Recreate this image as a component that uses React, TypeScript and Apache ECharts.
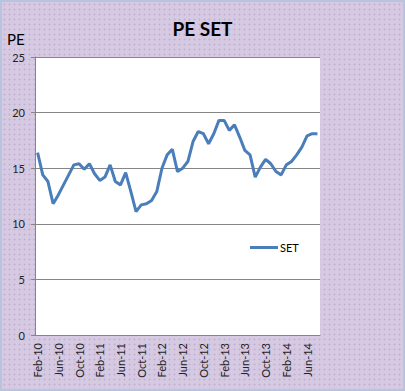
import React, { useEffect, useRef } from "react";
import * as echarts from "echarts";

const categories: string[] = [
  "Feb-10", "Mar-10", "Apr-10", "May-10", "Jun-10", "Jul-10", "Aug-10", "Sep-10", "Oct-10", "Nov-10", "Dec-10",
  "Jan-11", "Feb-11", "Mar-11", "Apr-11", "May-11", "Jun-11", "Jul-11", "Aug-11", "Sep-11", "Oct-11", "Nov-11", "Dec-11",
  "Jan-12", "Feb-12", "Mar-12", "Apr-12", "May-12", "Jun-12", "Jul-12", "Aug-12", "Sep-12", "Oct-12", "Nov-12", "Dec-12",
  "Jan-13", "Feb-13", "Mar-13", "Apr-13", "May-13", "Jun-13", "Jul-13", "Aug-13", "Sep-13", "Oct-13", "Nov-13", "Dec-13",
  "Jan-14", "Feb-14", "Mar-14", "Apr-14", "May-14", "Jun-14", "Jul-14", "Aug-14",
];

const setValues: number[] = [
  16.4, 14.4, 13.8, 11.8, 12.6, 13.5, 14.4, 15.3, 15.4, 14.9, 15.4,
  14.5, 13.9, 14.2, 15.3, 13.8, 13.5, 14.6, 12.9, 11.1, 11.7, 11.8, 12.1,
  12.9, 15.0, 16.2, 16.7, 14.7, 15.0, 15.6, 17.4, 18.3, 18.1, 17.2, 18.1,
  19.3, 19.3, 18.4, 18.9, 17.8, 16.6, 16.2, 14.2, 15.1, 15.8, 15.4, 14.7,
  14.4, 15.3, 15.6, 16.2, 16.9, 17.9, 18.1, 18.1,
];

const yTicks = { min: 0, max: 25, interval: 5 };

export default function App() {
  const ref = useRef<HTMLDivElement>(null);
  useEffect(() => {
    if (!ref.current) return;
    const chart = echarts.init(ref.current, undefined, { renderer: "svg" });
    const font = "Lato, 'Open Sans', sans-serif";
    chart.setOption({
      animation: false,
      backgroundColor: "transparent",
      title: {
        text: "PE SET",
        left: "center",
        top: 14,
        textStyle: { fontFamily: font, fontWeight: "bold", fontSize: 19, color: "#000" },
      },
      graphic: [
        {
          type: "text",
          left: 7,
          top: 31,
          style: { text: "PE", fontFamily: "'Liberation Sans Narrow', " + font, fontSize: 15, fill: "#000" },
        },
      ],
      legend: {
        data: ["SET"],
        left: 245,
        top: 237,
        icon: "rect",
        itemWidth: 28,
        itemHeight: 3,
        itemGap: 4,
        textStyle: { fontFamily: font, fontSize: 11, color: "#000", padding: [0, 0, 0, -3] },
      },
      grid: { left: 35, right: 85, top: 57, bottom: 56, containLabel: false, show: true, backgroundColor: "#fff", borderWidth: 0 },
      xAxis: {
        type: "category",
        data: categories,
        boundaryGap: true,
        axisLine: { lineStyle: { color: "#868686", width: 1 } },
        axisTick: { interval: 3, length: 5, lineStyle: { color: "#868686" } },
        axisLabel: { interval: 3, rotate: 90, fontFamily: font, fontSize: 11, color: "#222", margin: 8 },
        splitLine: { show: false },
      },
      yAxis: {
        type: "value",
        min: yTicks.min,
        max: yTicks.max,
        interval: yTicks.interval,
        axisLine: { show: true, lineStyle: { color: "#868686", width: 1 } },
        axisTick: { show: true, length: 4, lineStyle: { color: "#868686" } },
        axisLabel: { fontFamily: font, fontSize: 11, color: "#222", margin: 10 },
        splitLine: { show: true, lineStyle: { color: "#868686", width: 1 } },
      },
      series: [
        {
          name: "SET",
          type: "line",
          data: setValues,
          showSymbol: false,
          symbol: "none",
          lineStyle: { color: "#4a7ebb", width: 3 },
          itemStyle: { color: "#4a7ebb" },
        },
      ],
    });
    return () => chart.dispose();
  }, []);
  return (
    <div
      style={{
        position: "fixed",
        left: 0,
        top: 0,
        width: 405,
        height: 391,
        boxSizing: "border-box",
        border: "2px solid #b8c4de",
        backgroundColor: "#d6cae3",
        backgroundImage: "radial-gradient(circle, #c2b0d4 0.8px, transparent 1.2px)",
        backgroundSize: "5px 5px",
      }}
    >
      <div ref={ref} style={{ position: "absolute", left: -2, top: -2, width: 405, height: 391 }} />
    </div>
  );
}
